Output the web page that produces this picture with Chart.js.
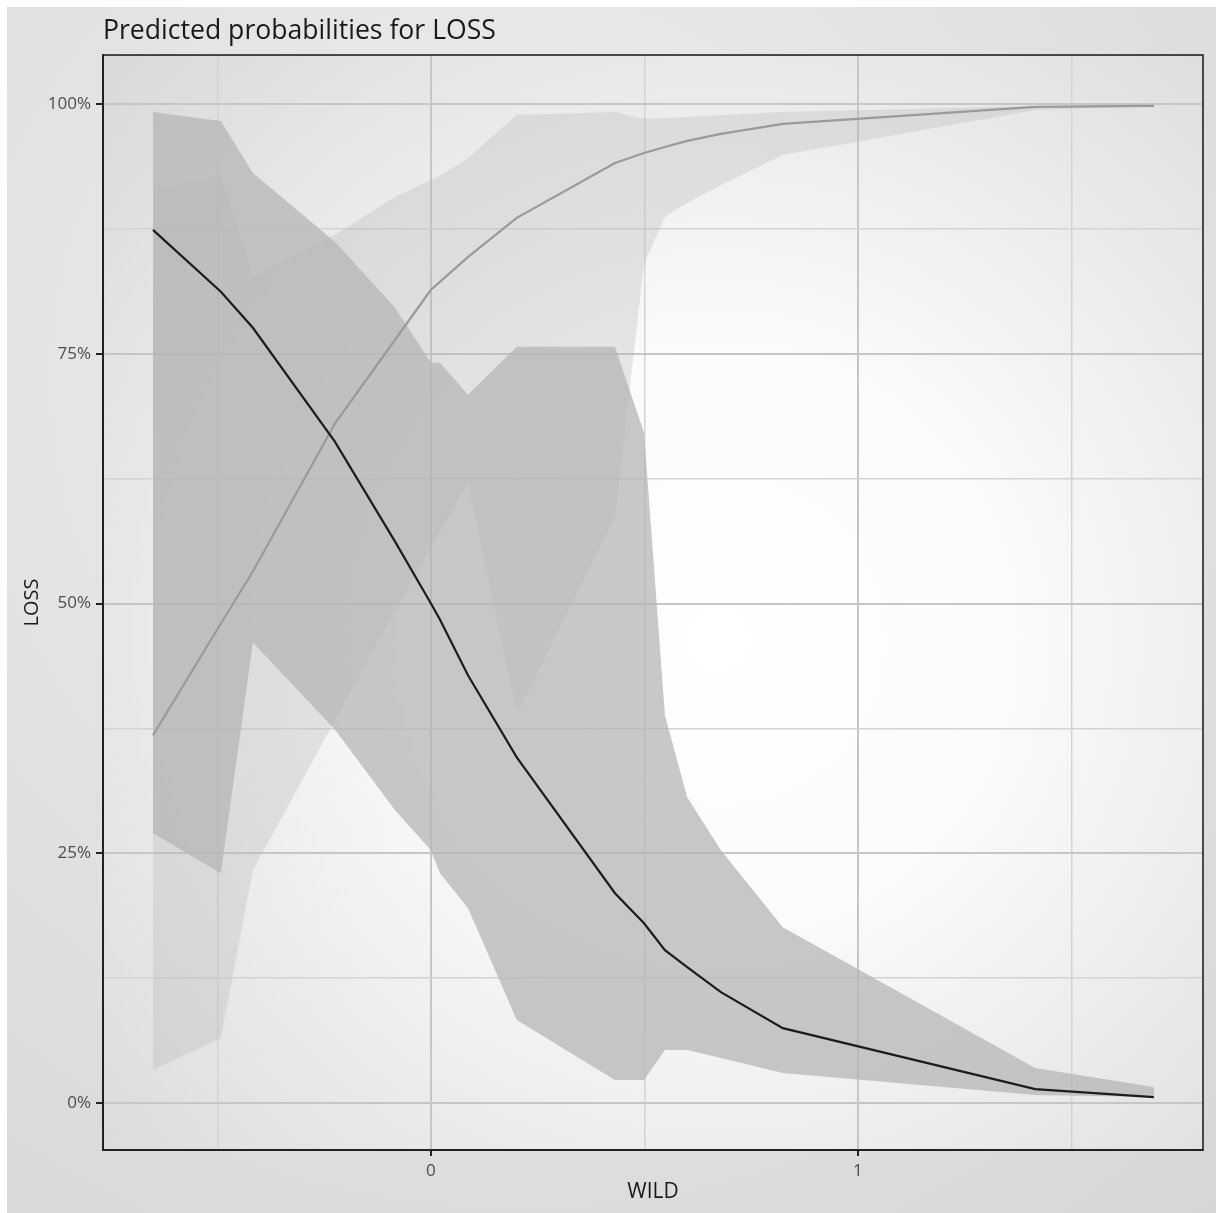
<!DOCTYPE html>
<html>
<head>
<meta charset="utf-8">
<script src="https://cdn.jsdelivr.net/npm/chart.js@4/dist/chart.umd.min.js"></script>
<style>
  html, body { margin: 0; padding: 0; background: #ffffff; }
  canvas { display: block; }
</style>
</head>
<body>
<canvas id="c" width="1216" height="1213"></canvas>
<script>
// ---- data ----
const wild = [-0.651, -0.492, -0.417, -0.225, -0.084, 0.0, 0.021, 0.087, 0.201, 0.431, 0.499, 0.548, 0.600, 0.679, 0.824, 1.415, 1.693];

// dark series (black line) and its band
const lossDark      = [87.4, 81.2, 77.6, 66.2, 56.2, 50.0, 48.4, 42.8, 34.6, 21.0, 18.0, 15.3, 13.6, 11.1, 7.5, 1.4, 0.6];
const lossDarkHigh  = [99.2, 98.3, 93.1, 86.2, 79.6, 74.1, 74.1, 70.9, 75.7, 75.7, 67.1, 38.8, 30.6, 25.3, 17.6, 3.5, 1.6];
const lossDarkLow   = [27.0, 23.0, 46.1, 37.4, 29.3, 25.3, 23.0, 19.5, 8.3, 2.3, 2.3, 5.3, 5.3, 4.5, 3.0, 0.8, 0.6];

// light series (gray line) and its band
const lossLight     = [36.8, 48.0, 53.2, 68.0, 76.4, 81.4, 82.2, 84.7, 88.6, 94.1, 95.1, 95.7, 96.3, 97.0, 98.0, 99.7, 99.8];
const lossLightHigh = [91.4, 92.9, 82.7, 86.9, 90.7, 92.4, 92.8, 94.6, 98.9, 99.2, 98.5, 98.6, 98.7, 98.9, 99.2, 99.8, 100.0];
const lossLightLow  = [3.3, 6.5, 23.3, 38.3, 49.3, 55.6, 57.2, 62.1, 39.0, 58.7, 84.0, 88.7, 90.1, 91.9, 94.9, 99.4, 99.8];

// axes
const xTicks = [-0.5, 0, 0.5, 1, 1.5];
const xLabels = [0, 1];
const yTicks = [0, 12.5, 25, 37.5, 50, 62.5, 75, 87.5, 100];
const yLabels = [0, 25, 50, 75, 100];
const chartTitle = 'Predicted probabilities for LOSS';
const xTitle = 'WILD';
const yTitle = 'LOSS';

function pts(ys) { return wild.map((x, i) => ({ x: x, y: ys[i] })); }

const bgPlugin = {
  id: 'bgPlugin',
  beforeDraw(chart) {
    const ctx = chart.ctx, W = chart.width, H = chart.height;
    ctx.save();
    ctx.fillStyle = '#ffffff';
    ctx.fillRect(0, 0, W, H);
    const g = ctx.createRadialGradient(520, 380, 0, 520, 380, 1100);
    g.addColorStop(0, '#efefef');
    g.addColorStop(1, '#d6d6d6');
    ctx.fillStyle = g;
    ctx.fillRect(7, 7, W - 7, H - 7);
    const a = chart.chartArea;
    const p = ctx.createRadialGradient(720, 640, 0, 720, 640, 820);
    p.addColorStop(0, '#ffffff');
    p.addColorStop(0.35, '#fbfbfb');
    p.addColorStop(1, '#dadada');
    ctx.fillStyle = p;
    ctx.fillRect(a.left, a.top, a.right - a.left, a.bottom - a.top);
    ctx.restore();
  },
  afterDraw(chart) {
    const ctx = chart.ctx, a = chart.chartArea;
    ctx.save();
    ctx.strokeStyle = '#222222';
    ctx.lineWidth = 1.6;
    ctx.strokeRect(a.left, a.top, a.right - a.left, a.bottom - a.top);
    ctx.restore();
  }
};

function build() {
  new Chart(document.getElementById('c'), {
    type: 'line',
    data: {
      datasets: [
        { label: 'dark', data: pts(lossDark), borderColor: '#1c1c1c', borderWidth: 2.2, pointRadius: 0, fill: false, tension: 0 },
        { label: 'light', data: pts(lossLight), borderColor: '#9a9a9a', borderWidth: 2.2, pointRadius: 0, fill: false, tension: 0 },
        { label: 'darkHigh', data: pts(lossDarkHigh), borderWidth: 0, borderColor: 'rgba(0,0,0,0)', pointRadius: 0, fill: '+1', backgroundColor: 'rgba(181,181,181,0.74)', tension: 0 },
        { label: 'darkLow', data: pts(lossDarkLow), borderWidth: 0, borderColor: 'rgba(0,0,0,0)', pointRadius: 0, fill: false, tension: 0 },
        { label: 'lightHigh', data: pts(lossLightHigh), borderWidth: 0, borderColor: 'rgba(0,0,0,0)', pointRadius: 0, fill: '+1', backgroundColor: 'rgba(183,183,183,0.32)', tension: 0 },
        { label: 'lightLow', data: pts(lossLightLow), borderWidth: 0, borderColor: 'rgba(0,0,0,0)', pointRadius: 0, fill: false, tension: 0 }
      ]
    },
    options: {
      responsive: false,
      devicePixelRatio: 1,
      animation: false,
      layout: { padding: { top: 0, right: 13, bottom: 0, left: 0 } },
      plugins: {
        legend: { display: false },
        tooltip: { enabled: false },
        title: {
          display: true,
          text: chartTitle,
          align: 'start',
          fullSize: false,
          color: '#1a1a1a',
          font: { family: '"Open Sans"', size: 26.6, weight: 'normal', lineHeight: 1.2 },
          padding: { top: 15, bottom: 8.1 }
        }
      },
      scales: {
        x: {
          type: 'linear',
          min: -0.768,
          max: 1.808,
          afterFit(s) { s.height = 63; },
          afterBuildTicks(s) { s.ticks = xTicks.map(v => ({ value: v })); },
          ticks: {
            callback: (v) => xLabels.includes(v) ? String(v) : '',
            color: '#4d4d4d',
            font: { family: '"Open Sans"', size: 17 },
            padding: 5,
            maxRotation: 0,
            autoSkip: false
          },
          grid: {
            color: (c) => xLabels.includes(c.tick && c.tick.value) ? '#c6c6c6' : '#d3d3d3',
            lineWidth: (c) => xLabels.includes(c.tick && c.tick.value) ? 2 : 1.5,
            tickColor: (c) => xLabels.includes(c.tick && c.tick.value) ? '#222222' : 'rgba(0,0,0,0)',
            tickLength: 6,
            drawTicks: true
          },
          border: { display: true, color: '#222222', width: 2 },
          title: {
            display: true,
            text: xTitle,
            color: '#1a1a1a',
            font: { family: '"Open Sans"', size: 21 },
            padding: { top: 0, bottom: 8 }
          }
        },
        y: {
          type: 'linear',
          min: -4.70,
          max: 104.90,
          afterFit(s) { s.width = 103; },
          afterBuildTicks(s) { s.ticks = yTicks.map(v => ({ value: v })); },
          ticks: {
            callback: (v) => yLabels.includes(v) ? v + '%' : '',
            color: '#4d4d4d',
            font: { family: '"Open Sans"', size: 17 },
            padding: 5,
            autoSkip: false
          },
          grid: {
            color: (c) => yLabels.includes(c.tick && c.tick.value) ? '#c6c6c6' : '#d3d3d3',
            lineWidth: (c) => yLabels.includes(c.tick && c.tick.value) ? 2 : 1.5,
            tickColor: (c) => yLabels.includes(c.tick && c.tick.value) ? '#222222' : 'rgba(0,0,0,0)',
            tickLength: 7,
            drawTicks: true
          },
          border: { display: true, color: '#222222', width: 2 },
          title: {
            display: true,
            text: yTitle,
            color: '#1a1a1a',
            font: { family: '"Open Sans"', size: 20 },
            padding: { top: 20, bottom: 0 }
          }
        }
      }
    },
    plugins: [bgPlugin]
  });
}

let built = false;
function go() { if (!built) { built = true; build(); } }
if (document.fonts && document.fonts.load) {
  Promise.all([
    document.fonts.load('17px "Open Sans"'),
    document.fonts.load('26px "Open Sans"')
  ]).then(go, go);
  setTimeout(go, 1500);
} else {
  go();
}
</script>
</body>
</html>
